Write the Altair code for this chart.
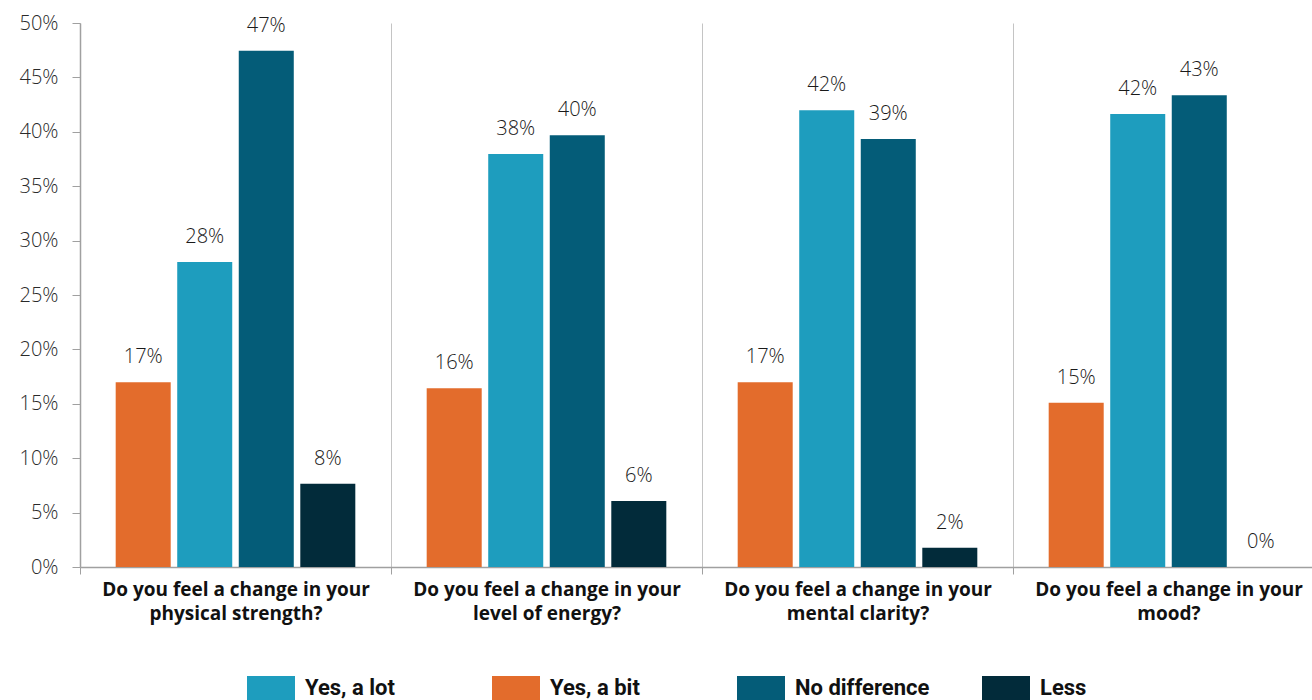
import altair as alt
import pandas as pd

# Survey questions (shared first line, topic on the second line)
QUESTION = "Do you feel a change in your"
topics = ["physical strength?", "level of energy?", "mental clarity?", "mood?"]
questions = [f"{QUESTION} {t}" for t in topics]

# Answer categories: legend order and the order of bars inside each group
responses = ["Yes, a lot", "Yes, a bit", "No difference", "Less"]
bar_order = ["Yes, a bit", "Yes, a lot", "No difference", "Less"]
colors = ["#1E9DBE", "#E36C2C", "#045C78", "#022B3A"]

# Share of respondents (%) per question
yes_a_bit = [16.98, 16.42, 16.98, 15.10]
yes_a_lot = [28.03, 37.96, 41.97, 41.64]
no_difference = [47.45, 39.68, 39.34, 43.35]
less = [7.66, 6.07, 1.78, 0.0]

series = {
    "Yes, a bit": yes_a_bit,
    "Yes, a lot": yes_a_lot,
    "No difference": no_difference,
    "Less": less,
}
rows = []
for resp, vals in series.items():
    for q, v in zip(questions, vals):
        rows.append({"question": q, "response": resp, "value": v / 100})
df = pd.DataFrame(rows)

FONT = "Open Sans"
LEGEND_FONT = "Roboto"
qlen = len(QUESTION)

x_enc = alt.X(
    "question:N",
    sort=questions,
    scale=alt.Scale(paddingInner=0, paddingOuter=0, range=[0, 1244]),
    axis=alt.Axis(
        title=None,
        labelAngle=0,
        labelExpr=f"[slice(datum.label, 0, {qlen}), slice(datum.label, {qlen + 1})]",
        labelFont=FONT,
        labelFontSize=19,
        labelFontWeight="bold",
        labelColor="#111111",
        labelLineHeight=24,
        labelPadding=6,
        labelLimit=400,
        tickBand="extent",
        tickSize=7,
        tickColor="#a0a0a0",
        domainColor="#a0a0a0",
        domainWidth=1.5,
        grid=True,
        gridColor="#c4c4c4",
        gridWidth=1,
    ),
)
xoff_enc = alt.XOffset(
    "response:N",
    sort=bar_order,
    scale=alt.Scale(paddingInner=0.106, paddingOuter=0.58),
)
y_enc = alt.Y(
    "value:Q",
    scale=alt.Scale(domain=[0, 0.5]),
    axis=alt.Axis(
        title=None,
        format=".0%",
        values=[i * 0.05 for i in range(11)],
        grid=False,
        tickSize=8,
        tickColor="#a0a0a0",
        domainColor="#a0a0a0",
        domainWidth=1.5,
        labelPadding=14,
        labelFont=FONT,
        labelFontSize=20,
        labelFontWeight=300,
        labelColor="#2a2a2a",
    ),
)

base = alt.Chart(df).encode(x=x_enc, xOffset=xoff_enc, y=y_enc)

bars = base.mark_bar().encode(
    color=alt.Color(
        "response:N",
        sort=responses,
        scale=alt.Scale(domain=responses, range=colors),
        legend=alt.Legend(
            title=None,
            orient="none",
            legendX=167,
            legendY=641,
            direction="horizontal",
            columns=4,
            gridAlign="all",
            columnPadding=52,
            symbolType="M-1,-0.5H1V0.5H-1Z",
            symbolSize=2304,
            symbolStrokeWidth=0,
            symbolOpacity=1,
            labelFont=LEGEND_FONT,
            labelFontSize=22,
            labelFontWeight="bold",
            labelColor="#111111",
            labelOffset=10,
            labelLimit=300,
        ),
    )
)

labels = base.mark_text(
    baseline="alphabetic",
    dy=-19,
    font=FONT,
    fontSize=20,
    fontWeight=300,
    color="#1a1a1a",
).encode(text=alt.Text("value:Q", format=".0%"))

chart = (
    alt.layer(bars, labels)
    .properties(
        width=1232,
        height=544,
        autosize=alt.AutoSizeParams(type="none"),
        padding={"left": 80, "top": 23, "right": 0, "bottom": 133},
        background="white",
    )
    .configure_view(stroke=None)
)

chart.save("out.html", embed_options={"renderer": "svg", "actions": False})
